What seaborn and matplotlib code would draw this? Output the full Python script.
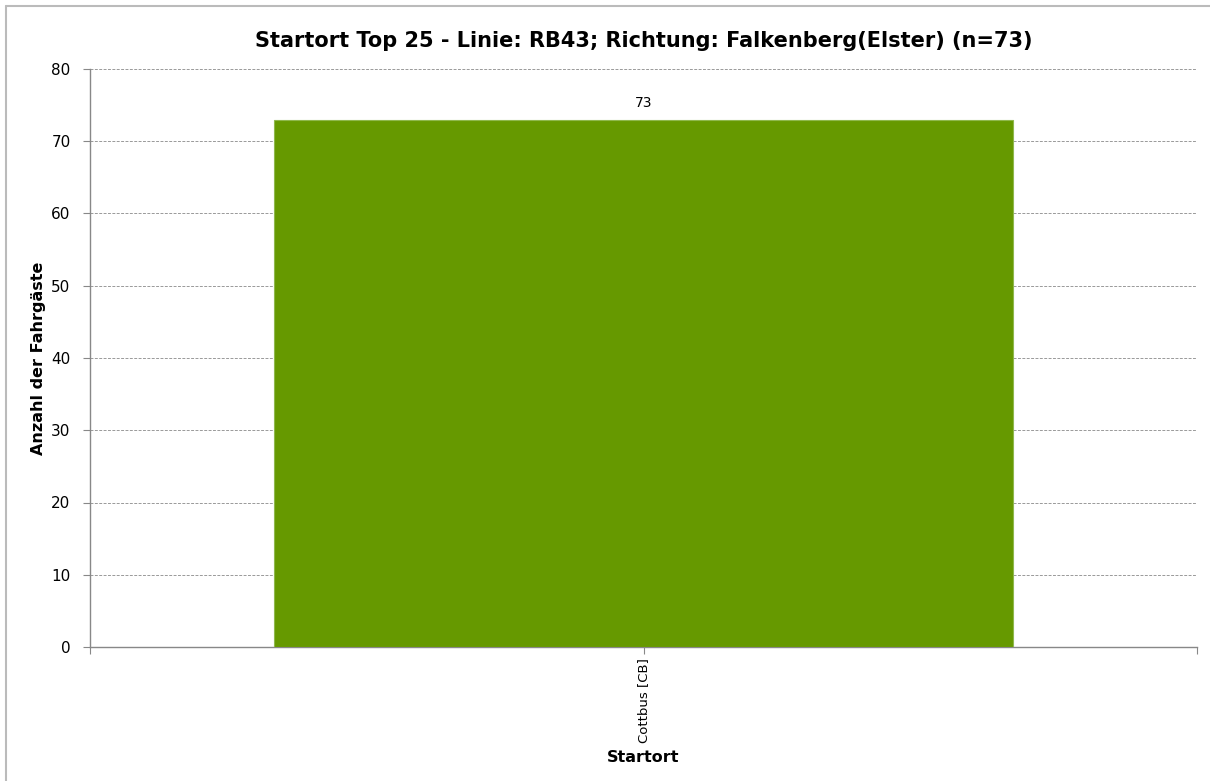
import matplotlib
matplotlib.use("Agg")
import matplotlib.pyplot as plt
import seaborn as sns
import pandas as pd
from matplotlib.lines import Line2D

# Data
startorte = ["Cottbus [CB]"]
anzahl = [73]

df = pd.DataFrame({"Startort": startorte, "Anzahl": anzahl})

sns.set_style("white")
plt.rcParams["font.family"] = ["DejaVu Sans"]
plt.rcParams["text.color"] = "black"
plt.rcParams["axes.labelcolor"] = "black"
plt.rcParams["xtick.color"] = "black"
plt.rcParams["ytick.color"] = "black"

fig = plt.figure(figsize=(12.1, 7.81), dpi=100)
ax = fig.add_axes([90 / 1210, 1 - 647 / 781, (1197 - 90) / 1210, (647 - 69) / 781])

sns.barplot(data=df, x="Startort", y="Anzahl", color="#669900", saturation=1, width=0.667,
            edgecolor="#8fb84d", linewidth=0.8, ax=ax, zorder=3)

# value labels
for c in ax.containers:
    ax.bar_label(c, labels=[str(v) for v in anzahl], padding=7, fontsize=10, color="black")

ax.set_ylim(0, 80)
ax.set_yticks(range(0, 81, 10))
ax.set_xlim(-0.5, len(startorte) - 0.5)
ax.yaxis.grid(True, linestyle=(0, (3, 1.5)), color="#999999", linewidth=0.7, zorder=0)
ax.set_axisbelow(True)

for side in ["top", "right"]:
    ax.spines[side].set_visible(False)
for side in ["left", "bottom"]:
    ax.spines[side].set_color("#888888")
    ax.spines[side].set_linewidth(1.0)

ax.tick_params(axis="y", length=5, color="#888888", labelsize=11, pad=9, left=True)
ax.tick_params(axis="x", length=5, color="#888888", labelsize=9.5, pad=3, bottom=True)
ax.set_xticks([-0.5, 0, 0.5], labels=["", startorte[0], ""])
plt.setp(ax.get_xticklabels(), rotation=90)

ax.set_xlabel("Startort", fontsize=11.5, fontweight="bold", labelpad=5)
ax.set_ylabel("Anzahl der Fahrgäste", fontsize=11.5, fontweight="bold", labelpad=4)
ax.set_title("Startort Top 25 - Linie: RB43; Richtung: Falkenberg(Elster) (n=73)",
             fontsize=15, fontweight="bold", pad=16)

# thin border on left and top of chart area
fig.add_artist(Line2D([6 / 1210, 6 / 1210], [0, 1 - 6 / 781], color="#bbbbbb", linewidth=1.5))
fig.add_artist(Line2D([6 / 1210, 1], [1 - 6 / 781, 1 - 6 / 781], color="#bbbbbb", linewidth=1.5))

fig.savefig("out.png", dpi=100)
